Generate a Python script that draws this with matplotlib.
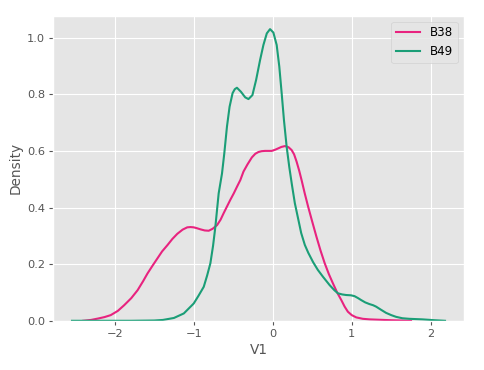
import matplotlib
matplotlib.use('Agg')
import matplotlib.pyplot as plt

# density curves (V1 vs Density)
b38_x = [-2.40, -2.30, -2.21, -2.13, -2.05, -1.96, -1.88, -1.79, -1.71, -1.64, -1.585,
         -1.52, -1.46, -1.40, -1.333, -1.27, -1.208, -1.14, -1.082, -1.04, -1.0, -0.96,
         -0.915, -0.86, -0.81, -0.76, -0.704, -0.66, -0.621, -0.58, -0.537, -0.493,
         -0.453, -0.41, -0.37, -0.32, -0.264, -0.22, -0.181, -0.14, -0.097, -0.05,
         -0.013, 0.03, 0.07, 0.11, 0.155, 0.20, 0.239, 0.27, 0.302, 0.335, 0.365,
         0.405, 0.448, 0.50, 0.553, 0.605, 0.658, 0.71, 0.762, 0.815, 0.868, 0.91,
         0.951, 1.0, 1.057, 1.14, 1.224, 1.5, 1.75]
b38_y = [0.0, 0.003, 0.008, 0.013, 0.02, 0.035, 0.055, 0.08, 0.108, 0.14, 0.167,
         0.195, 0.22, 0.245, 0.267, 0.289, 0.307, 0.322, 0.33, 0.331, 0.33, 0.327,
         0.323, 0.319, 0.318, 0.325, 0.338, 0.357, 0.38, 0.403, 0.427, 0.45,
         0.473, 0.497, 0.527, 0.552, 0.577, 0.59, 0.596, 0.599, 0.60, 0.60,
         0.60, 0.604, 0.609, 0.614, 0.617, 0.613, 0.603, 0.588, 0.562, 0.53, 0.497,
         0.45, 0.403, 0.35, 0.297, 0.248, 0.203, 0.165, 0.132, 0.10, 0.073, 0.05,
         0.032, 0.02, 0.012, 0.007, 0.005, 0.002, 0.0]

b49_x = [-2.54, -1.8, -1.5, -1.39, -1.25, -1.125, -1.0, -0.94, -0.873, -0.83, -0.789,
         -0.755, -0.726, -0.684, -0.642, -0.613, -0.579, -0.546, -0.508, -0.48, -0.453,
         -0.403, -0.348, -0.307, -0.257, -0.21, -0.16, -0.118, -0.075, -0.034, 0.008,
         0.05, 0.083, 0.113, 0.142, 0.176, 0.209, 0.243, 0.28, 0.322, 0.36, 0.406,
         0.45, 0.511, 0.57, 0.637, 0.72, 0.78, 0.825, 0.88, 0.93, 0.99, 1.035, 1.08,
         1.12, 1.17, 1.224, 1.27, 1.308, 1.37, 1.434, 1.5, 1.56, 1.64, 1.727, 1.894,
         2.05, 2.18]
b49_y = [0.0, 0.0, 0.001, 0.003, 0.01, 0.026, 0.061, 0.088, 0.12, 0.16, 0.203,
         0.265, 0.332, 0.45, 0.52, 0.591, 0.686, 0.756, 0.804, 0.818, 0.823,
         0.809, 0.789, 0.783, 0.797, 0.851, 0.921, 0.974, 1.015, 1.03, 1.018,
         0.974, 0.898, 0.804, 0.709, 0.615, 0.544, 0.48, 0.415, 0.36, 0.31, 0.268,
         0.24, 0.207, 0.18, 0.155, 0.126, 0.108, 0.097, 0.093, 0.091, 0.09, 0.087, 0.08,
         0.073, 0.065, 0.059, 0.055, 0.05, 0.039, 0.028, 0.02, 0.014, 0.009, 0.007, 0.005,
         0.002, 0.0]

plt.style.use('ggplot')
plt.rcParams['font.size'] = 8.2

fig = plt.figure(figsize=(4.85, 3.7), dpi=100)
ax = fig.add_axes([0.110, 0.133, 0.846, 0.825])

ax.plot(b38_x, b38_y, color='#e8237f', linewidth=1.5, label='B38')
ax.plot(b49_x, b49_y, color='#1b9e77', linewidth=1.5, label='B49')

ax.set_xlim(-2.776, 2.416)
ax.set_ylim(0, 1.078)
ax.set_xticks([-2, -1, 0, 1, 2])
ax.set_yticks([0.0, 0.2, 0.4, 0.6, 0.8, 1.0])
ax.tick_params(length=3, color='#555555', pad=3)
ax.set_xlabel('V1', labelpad=3)
ax.set_ylabel('Density', labelpad=3)
ax.legend(loc='upper right', fontsize=8.6)

fig.savefig('out.png', dpi=100)
